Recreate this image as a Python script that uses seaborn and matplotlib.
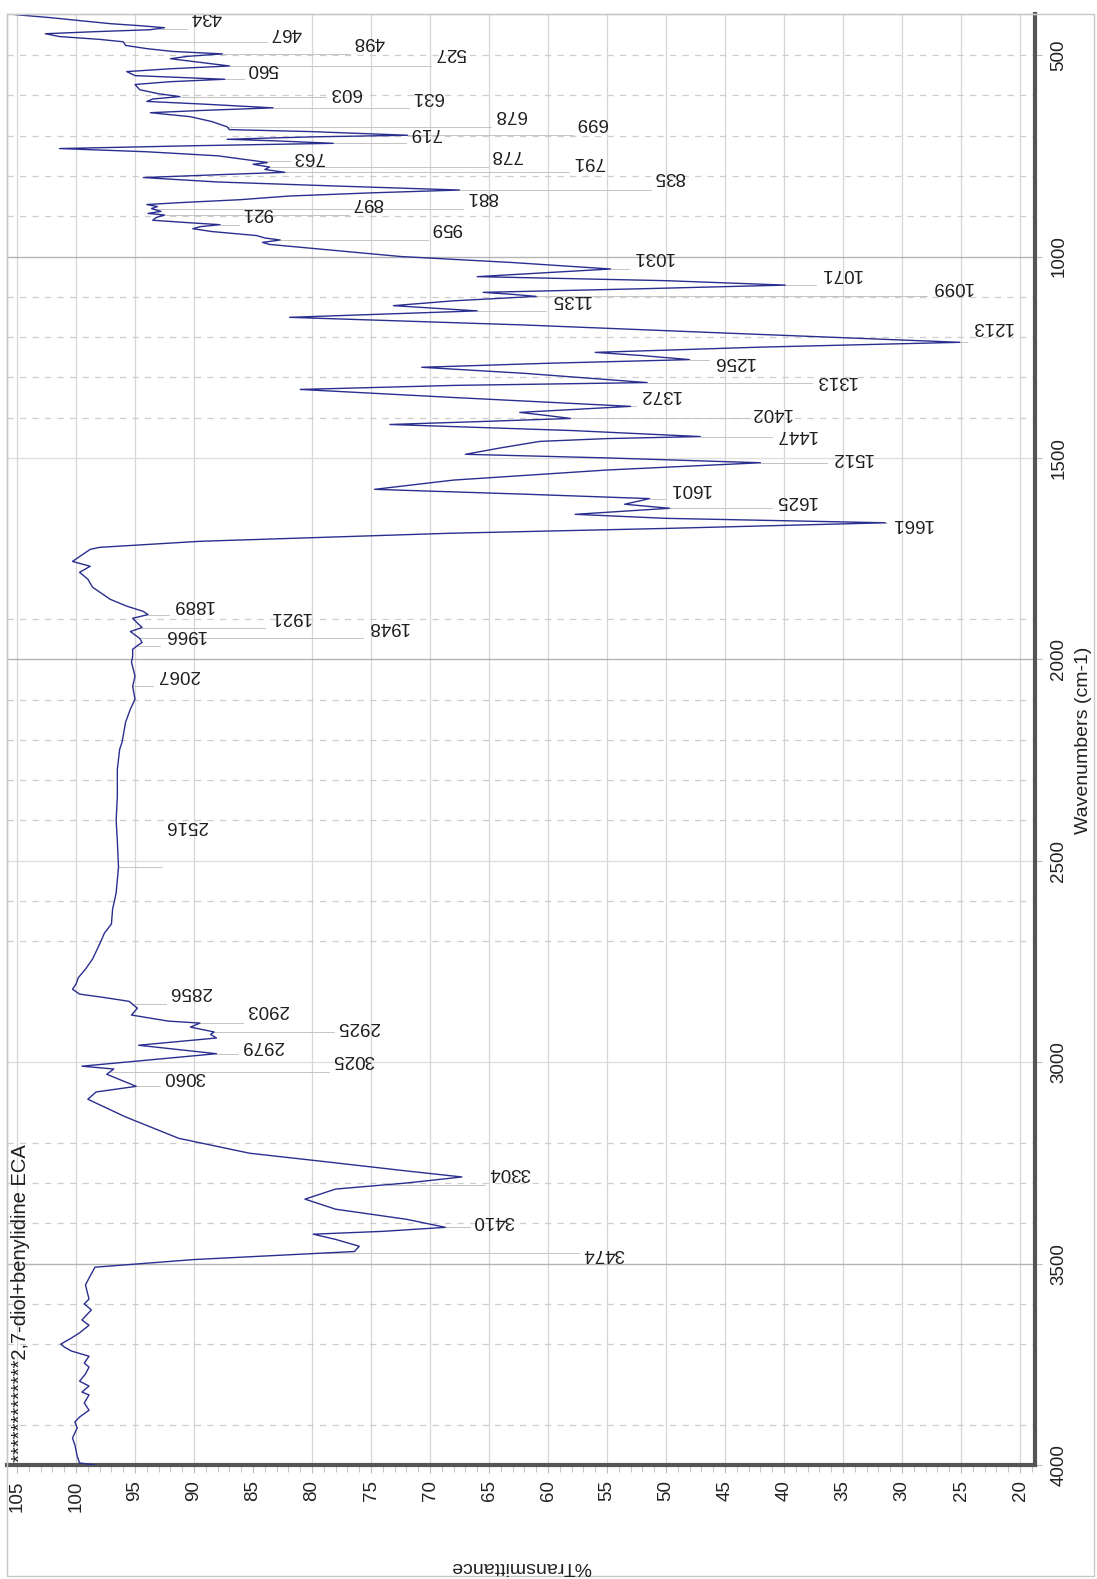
import numpy as np
import pandas as pd
import matplotlib
matplotlib.use("Agg")
import matplotlib.pyplot as plt
import seaborn as sns
from matplotlib.patches import Rectangle

# ---------------- data ----------------
wavenumber = [
    398, 401, 407, 415, 422, 427, 432, 437, 442, 447, 454, 461, 467, 476, 484, 491, 497, 503, 509,
    518, 527, 534, 541, 551, 560, 566, 573, 586, 596, 603, 609, 615, 622, 631, 637, 643, 653, 665,
    678, 685, 690, 699, 703, 709, 713, 719, 725, 732, 740, 750, 763, 767, 771, 778, 784, 791, 797,
    804, 815, 825, 835, 842, 850, 859, 866, 871, 876, 881, 888, 893, 897, 903, 910, 916, 921, 926,
    931, 938, 948, 954, 959, 965, 970, 985, 1000, 1015, 1031, 1040, 1050, 1060, 1071, 1080, 1089,
    1094, 1099, 1110, 1122, 1135, 1143, 1151, 1170, 1190, 1205, 1213, 1225, 1238, 1246, 1256, 1265,
    1275, 1290, 1313, 1320, 1330, 1350, 1372, 1380, 1387, 1395, 1402, 1410, 1417, 1432, 1447, 1452,
    1459, 1475, 1491, 1500, 1512, 1530, 1555, 1578, 1590, 1601, 1615, 1625, 1640, 1650, 1661, 1675,
    1687, 1707, 1722, 1727, 1757, 1769, 1784, 1801, 1821, 1851, 1868, 1881, 1889, 1898, 1910, 1921,
    1931, 1948, 1958, 1966, 1975, 1993, 2007, 2042, 2067, 2099, 2124, 2156, 2206, 2223, 2273, 2340,
    2400, 2450, 2516, 2580, 2620, 2657, 2680, 2707, 2744, 2769, 2790, 2806, 2819, 2831, 2840, 2849,
    2866, 2883, 2898, 2903, 2913, 2925, 2931, 2940, 2958, 2979, 3010, 3017, 3030, 3060, 3074, 3092,
    3136, 3189, 3226, 3246, 3270, 3285, 3300, 3315, 3340, 3365, 3390, 3410, 3420, 3427, 3440, 3457,
    3470, 3490, 3509, 3536, 3553, 3588, 3600, 3615, 3640, 3653, 3672, 3685, 3700, 3707, 3717, 3730,
    3747, 3757, 3774, 3792, 3804, 3819, 3826, 3846, 3864, 3881, 3893, 3908, 3933, 3950, 3978, 3995,
    4000,
]
transmittance = [
    105.6, 104.6, 102.2, 99.5, 97.1, 94.6, 92.5, 93.7, 98.5, 102.6, 101.4, 98.0, 96.0, 95.8, 94.0,
    91.8, 87.6, 90.5, 92.0, 89.5, 87.0, 92.0, 95.7, 95.0, 87.4, 92.0, 95.0, 94.6, 93.0, 91.2, 93.5,
    94.0, 89.0, 83.3, 89.0, 93.7, 90.3, 88.5, 87.2, 87.0, 80.0, 71.9, 80.0, 87.2, 83.0, 78.2, 90.0,
    101.4, 94.0, 88.0, 84.7, 83.8, 85.0, 83.6, 84.0, 82.3, 88.0, 94.3, 88.0, 78.0, 67.5, 75.0, 82.0,
    86.1, 91.0, 94.0, 93.1, 93.6, 92.8, 93.9, 92.5, 93.2, 93.5, 90.5, 87.8, 89.5, 90.1, 88.5, 84.7,
    84.0, 82.7, 84.2, 83.6, 78.0, 72.5, 63.0, 54.7, 60.0, 66.0, 50.0, 39.9, 52.0, 65.5, 63.0, 61.0,
    68.0, 73.1, 66.0, 74.0, 81.9, 62.0, 45.0, 32.0, 25.1, 42.0, 56.0, 52.0, 48.0, 60.0, 70.7, 62.0,
    51.6, 68.0, 81.0, 68.0, 53.0, 58.0, 62.4, 60.0, 58.1, 66.0, 73.4, 58.0, 47.1, 55.0, 60.7, 64.0,
    67.0, 55.0, 42.0, 55.0, 68.0, 74.7, 62.0, 51.4, 53.5, 49.7, 57.7, 50.0, 31.4, 50.0, 68.3, 89.5,
    98.0, 98.8, 100.3, 98.8, 99.7, 99.0, 98.6, 97.1, 95.7, 94.3, 93.9, 95.2, 94.8, 94.4, 95.4, 94.6,
    94.4, 94.8, 95.2, 95.2, 95.3, 95.0, 95.2, 95.0, 95.4, 95.8, 96.1, 96.3, 96.5, 96.5, 96.6, 96.5,
    96.4, 96.6, 96.9, 97.0, 97.6, 98.0, 98.6, 99.2, 99.8, 100.0, 100.3, 99.7, 97.5, 95.5, 94.8, 95.3,
    92.2, 89.5, 90.3, 88.3, 88.6, 88.1, 94.7, 88.1, 99.5, 96.8, 97.4, 94.9, 98.3, 99.0, 95.8, 91.3,
    85.3, 79.2, 72.0, 67.3, 72.0, 78.0, 80.6, 78.0, 72.0, 68.7, 74.0, 79.9, 78.0, 76.0, 76.4, 90.0,
    98.4, 98.9, 99.2, 98.9, 99.3, 98.7, 99.5, 98.9, 99.7, 100.4, 101.3, 101.0, 100.4, 98.9, 99.3,
    98.9, 99.2, 99.7, 98.9, 99.5, 98.9, 99.3, 98.9, 99.7, 100.1, 99.9, 100.3, 100.1, 99.9, 99.7, 98.4,
]

peak_labels = [434, 467, 498, 527, 560, 603, 631, 678, 699, 719, 763, 778, 791, 835, 881, 897,
               921, 959, 1031, 1071, 1099, 1135, 1213, 1256, 1313, 1372, 1402, 1447, 1512, 1601,
               1625, 1661, 1889, 1921, 1948, 1966, 2067, 2516, 2856, 2903, 2925, 2979, 3025,
               3060, 3304, 3410, 3474]

title_text = "*************2,7-diol+benylidine ECA"
x_title = "%Transmittance"
y_title = "Wavenumbers (cm-1)"
t_ticks = list(range(20, 106, 5))
wn_ticks = list(range(500, 4001, 500))

# ---------------- layout (label anchor positions, T / wavenumber) ----------------
label_pos = [
    (89.0, 404), (82.2, 444), (75.2, 466), (68.3, 494), (84.2, 533), (77.2, 593), (70.2, 603),
    (63.2, 648), (56.3, 667), (70.4, 692), (80.3, 752), (63.5, 747), (56.6, 764), (49.7, 801),
    (65.6, 851), (75.3, 866), (84.6, 891), (68.6, 928), (51.1, 1000), (35.2, 1042), (25.8, 1074),
    (58.1, 1107), (22.4, 1174), (44.3, 1261), (35.6, 1308), (50.5, 1342), (41.1, 1387),
    (39.0, 1442), (34.3, 1499), (48.0, 1575), (39.0, 1605), (29.2, 1662), (90.1, 1864),
    (81.9, 1893), (73.6, 1918), (90.8, 1938), (91.4, 2037), (90.7, 2412), (90.3, 2824),
    (83.8, 2869), (76.1, 2911), (84.2, 2958), (76.5, 2993), (90.8, 3035), (63.3, 3273),
    (64.6, 3394), (55.3, 3474),
]

W, H = 1097, 1579
sns.set_theme(style="white")
plt.rcParams["font.family"] = ["Liberation Sans", "DejaVu Sans"]

fig = plt.figure(figsize=(W / 100, H / 100), dpi=100)
ax = fig.add_axes([7 / W, (H - 1465) / H, 1028 / W, 1451 / H])

df = pd.DataFrame({"wn": wavenumber, "T": transmittance})
sns.lineplot(data=df, x="T", y="wn", sort=False, estimator=None, orient="y",
             color="#2a2e8e", linewidth=1.0, ax=ax, zorder=3)

ax.set_xlim(105.85, 18.73)
ax.set_ylim(4000, 398)

# grid lines (the reference has no line at 85)
grid_c = "#d6d6d6"
for t in t_ticks:
    if t != 85:
        ax.axvline(t, color=grid_c, lw=0.9, zorder=0)
for w in [1000, 2000, 3500]:
    ax.axhline(w, color="#b3b3b3", lw=1.0, zorder=0)
for w in [1500, 2500, 3000]:
    ax.axhline(w, color="#dedede", lw=0.9, zorder=0)
minor_wn = [500, 600, 700, 800, 900, 1100, 1200, 1300, 1400, 1900, 2100, 2200, 2300, 2400,
            2600, 2700, 3200, 3300, 3400, 3600, 3700, 3900]
for w in minor_wn:
    ax.axhline(w, color="#cdcdcd", lw=0.9, ls=(0, (5, 5)), zorder=0)

# spines
for s in ["bottom", "right"]:
    ax.spines[s].set_color("#555555")
    ax.spines[s].set_linewidth(3.0)
for s in ["left", "top"]:
    ax.spines[s].set_color("#c8c8c8")
    ax.spines[s].set_linewidth(1.0)

# ticks
ax.yaxis.tick_right()
ax.set_xticks(t_ticks)
ax.set_xticks(list(range(19, 106)), minor=True)
ax.set_xticklabels([str(t) for t in t_ticks])
ax.set_yticks(wn_ticks)
ax.set_yticklabels([str(w) for w in wn_ticks])
ax.tick_params(axis="x", which="major", direction="out", length=6, width=0.8, color="#bdbdbd",
               labelsize=13.5, labelcolor="#222222", pad=5, labelrotation=90, bottom=True)
ax.tick_params(axis="x", which="minor", direction="out", length=5, width=0.8, color="#c8c8c8",
               bottom=True)
ax.tick_params(axis="y", which="major", direction="out", length=5, width=0.8, color="#bdbdbd",
               labelsize=13.5, labelcolor="#222222", pad=6, labelrotation=90, right=True, left=False)
for lab in ax.get_yticklabels():
    lab.set_va("center")
ax.set_xlabel("")
ax.set_ylabel("")

# peak labels with leader lines
tip_T = np.interp(peak_labels, wavenumber, transmittance)
for p, tt, (lt, lw_) in zip(peak_labels, tip_T, label_pos):
    s = str(p)
    half = (len(s) * 10.6 / 2 + 3) / 11.8
    x_end = lt + half
    if tt > x_end:
        ax.plot([tt, x_end], [p, p], color="#c4c4c4", lw=0.7, zorder=2)
    ax.text(lt, lw_, s, rotation=180, ha="center", va="center", fontsize=13.5,
            color="#1e1e1e", zorder=4)

# sample title
ax.text((21 - 7) / 1028, 0.002, title_text, transform=ax.transAxes, rotation=90,
        ha="center", va="bottom", fontsize=14.5, color="#1e1e1e", zorder=4)

# axis titles
fig.text(521 / W, 1 - 1567 / H, x_title, rotation=180, ha="center", va="center",
         fontsize=14, color="#222222")
fig.text(1083 / W, 1 - 740 / H, y_title, rotation=90, ha="center", va="center",
         fontsize=14, color="#222222")

# outer frame
fig.patches.append(Rectangle((7 / W, 3 / H), 1087 / W, (1576 - 14) / H, transform=fig.transFigure,
                             fill=False, edgecolor="#c8c8c8", lw=1.0))

fig.savefig("out.png", dpi=100, facecolor="white")
